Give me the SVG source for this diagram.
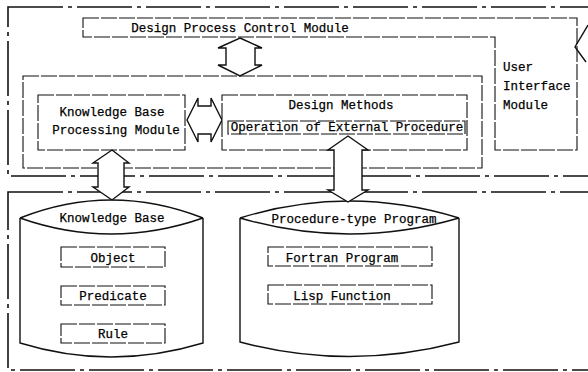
<svg xmlns="http://www.w3.org/2000/svg" width="588" height="372" viewBox="0 0 588 372">
  <style>
    text { font-family: "Liberation Mono", "DejaVu Sans Mono", monospace; font-size: 12.5px; fill: #000; stroke: #000; stroke-width: 0.25; }
    .frame { fill: none; stroke: #111; stroke-width: 1.6; stroke-dasharray: 55 5 4 5; }
    .box { fill: none; stroke: #111; stroke-width: 1.1; stroke-dasharray: 16 2; }
    .solid { fill: none; stroke: #111; stroke-width: 1.4; }
    .arrow { fill: #fff; stroke: #111; stroke-width: 1.4; stroke-linejoin: miter; }
    .mid { text-anchor: middle; }
  </style>

  <rect width="588" height="372" fill="#fff"/>

  <!-- system frames -->
  <rect class="frame" x="8" y="7" width="600" height="169"/>
  <rect class="frame" x="8" y="192" width="600" height="178"/>

  <!-- control module with attached user interface module -->
  <g id="control-module">
    <path class="box" d="M83,18 H577 V150 H495 V37 H83 Z"/>
    <text class="mid" x="240" y="32">Design Process Control Module</text>
  </g>
  <g id="user-interface">
    <text x="503" y="71">User</text>
    <text x="503" y="90">Interface</text>
    <text x="503" y="109">Module</text>
  </g>

  <!-- processing layer -->
  <g id="processing-layer">
    <rect class="box" x="23" y="76" width="459" height="92"/>
  </g>
  <g id="kb-processing">
    <rect class="box" x="38" y="95" width="147" height="55"/>
    <text class="mid" x="112" y="116">Knowledge Base</text>
    <text class="mid" x="116" y="134">Processing Module</text>
  </g>
  <g id="design-methods">
    <rect class="box" x="222" y="95" width="245" height="55"/>
    <text class="mid" x="341" y="109">Design Methods</text>
  </g>
  <g id="external-procedure">
    <rect class="box" x="228" y="121" width="237" height="13"/>
    <text class="mid" x="347" y="131">Operation of External Procedure</text>
  </g>

  <!-- storage layer -->
  <g id="knowledge-base">
    <path class="solid" d="M20,218 Q111,182 203,218 M20,218 Q111,250 203,218 M20,218 V343 Q111,371 203,343 V218"/>
    <text class="mid" x="112" y="222">Knowledge Base</text>
  </g>
  <g id="object">
    <rect class="box" x="61" y="247" width="104" height="20"/>
    <text class="mid" x="113" y="262">Object</text>
  </g>
  <g id="predicate">
    <rect class="box" x="61" y="286" width="104" height="19"/>
    <text class="mid" x="113" y="300">Predicate</text>
  </g>
  <g id="rule">
    <rect class="box" x="61" y="324" width="104" height="19"/>
    <text class="mid" x="113" y="338">Rule</text>
  </g>

  <g id="procedure-program">
    <path class="solid" d="M240,218 Q349,184 459,218 M240,218 Q349,250 459,218 M240,218 V342 Q349,371 459,342 V218"/>
    <text class="mid" x="354" y="223">Procedure-type Program</text>
  </g>
  <g id="fortran">
    <rect class="box" x="268" y="247" width="164" height="19"/>
    <text class="mid" x="342" y="262">Fortran Program</text>
  </g>
  <g id="lisp">
    <rect class="box" x="268" y="285" width="164" height="19"/>
    <text class="mid" x="342" y="300">Lisp Function</text>
  </g>

  <!-- two-way data paths -->
  <g id="connectors">
    <path class="arrow" d="M240,38 L262,48 H255 V65 H262 L240,76 L218,65 H226 V48 H218 Z"/>
    <path class="arrow" d="M187,120 L198,98 V106 H211 V98 L222,120 L211,142 V134 H198 V142 Z"/>
    <path class="arrow" d="M112,150 L129,163 H124 V187 H129 L112,200 L93,187 H98 V163 H93 Z"/>
    <path class="arrow" d="M348,136 L368,150 H362 V190 H368 L348,202 L328,190 H334 V150 H328 Z"/>
    <path class="solid" d="M588,25 L575,47 L586,62"/>
  </g>
</svg>
